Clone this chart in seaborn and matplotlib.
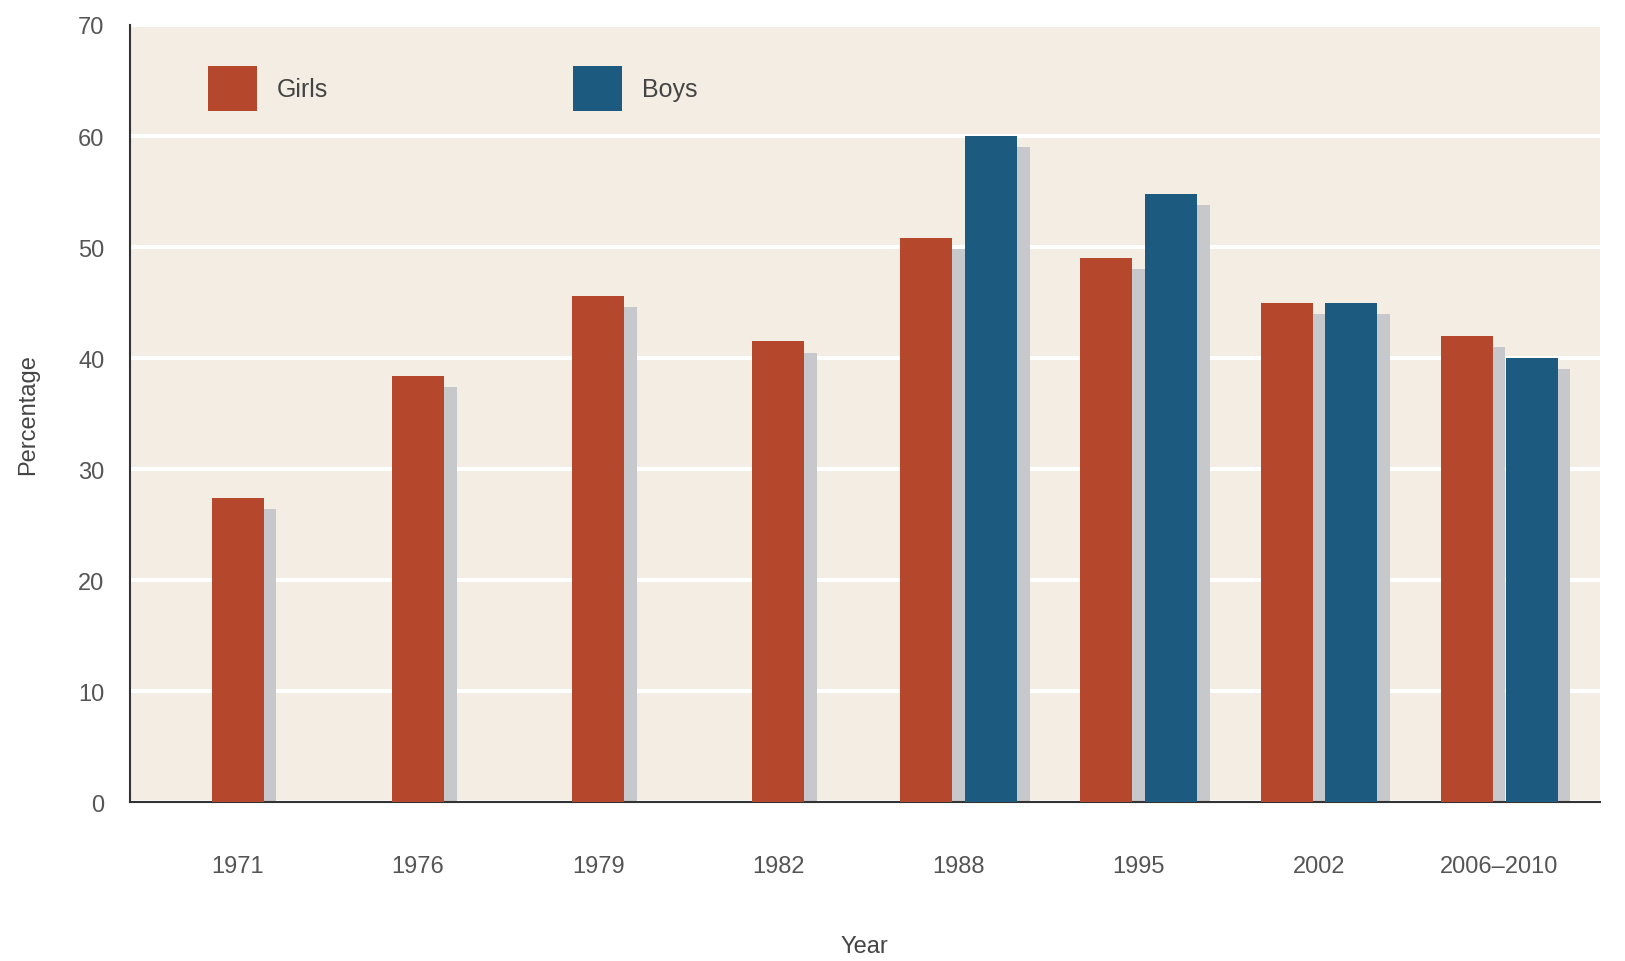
import matplotlib
matplotlib.use("Agg")
import matplotlib.pyplot as plt
import seaborn as sns
import numpy as np
import pandas as pd
from matplotlib.patches import Rectangle, Patch

years = ["1971", "1976", "1979", "1982", "1988", "1995", "2002", "2006\u20132010"]
girls = [27.4, 38.4, 45.6, 41.5, 50.8, 49.0, 45.0, 42.0]
boys = [None, None, None, None, 60.0, 54.8, 45.0, 40.0]

girl_color = "#b5482c"
boy_color = "#1d5a80"
shadow_color = "#c6c8cc"
bg_color = "#f3ede3"

# long form table, years with only girls are drawn on their own so they sit centred
rows = []
for y, g, b in zip(years, girls, boys):
    rows.append({"Year": y, "Sex": "Girls", "Pct": g, "paired": b is not None})
    if b is not None:
        rows.append({"Year": y, "Sex": "Boys", "Pct": b, "paired": True})
df = pd.DataFrame(rows)
single = df[~df["paired"]]
paired = df[df["paired"]]

sns.set_style("white")
plt.rcParams["font.family"] = ["Liberation Sans Narrow", "Liberation Sans", "DejaVu Sans"]

fig = plt.figure(figsize=(16.25, 9.62), dpi=100)
ax = fig.add_axes([0.0797, 0.165, 0.905, 0.808])
ax.set_facecolor(bg_color)

sns.barplot(data=single, x="Year", y="Pct", order=years, color=girl_color,
            width=0.29, saturation=1, ax=ax, zorder=3)
sns.barplot(data=paired, x="Year", y="Pct", hue="Sex", order=years,
            hue_order=["Girls", "Boys"], palette=[girl_color, boy_color],
            width=0.72, gap=0.2, saturation=1, legend=False, ax=ax, zorder=3)

# grey drop shadows behind every bar
dx, dy = 0.07, 1.0
for p in list(ax.patches):
    h = p.get_height()
    if np.isnan(h) or h <= 0:
        continue
    p.set_edgecolor("none")
    ax.add_patch(Rectangle((p.get_x() + dx, 0), p.get_width(), h - dy,
                           facecolor=shadow_color, edgecolor="none", zorder=2))

ax.set_ylim(0, 70)
ax.set_xlim(-0.6, 7.56)
ax.set_yticks(range(0, 71, 10))
ax.yaxis.grid(True, color="white", linewidth=3, zorder=1)
ax.set_axisbelow(True)

for s in ["top", "right"]:
    ax.spines[s].set_visible(False)
ax.spines["left"].set_color("#333333")
ax.spines["bottom"].set_color("#333333")
ax.spines["left"].set_linewidth(1.5)
ax.spines["bottom"].set_linewidth(1.5)

ax.tick_params(axis="y", length=0, pad=18, labelsize=17, labelcolor="#555555")
ax.tick_params(axis="x", length=0, pad=38, labelsize=17, labelcolor="#555555")
ax.set_xlabel("Year", fontsize=17, color="#444444", labelpad=42)
ax.set_ylabel("Percentage", fontsize=17, color="#444444", labelpad=28)

handles = [Patch(facecolor=girl_color, edgecolor="none", label="Girls"),
           Patch(facecolor=boy_color, edgecolor="none", label="Boys")]
ax.legend(handles=handles, loc="upper left", bbox_to_anchor=(0.038, 0.976),
          ncol=2, frameon=False, fontsize=18, handlelength=1.96, handleheight=2.4,
          handletextpad=0.8, columnspacing=9.8, labelcolor="#444444")

fig.savefig("out.png", dpi=100, facecolor="white")
